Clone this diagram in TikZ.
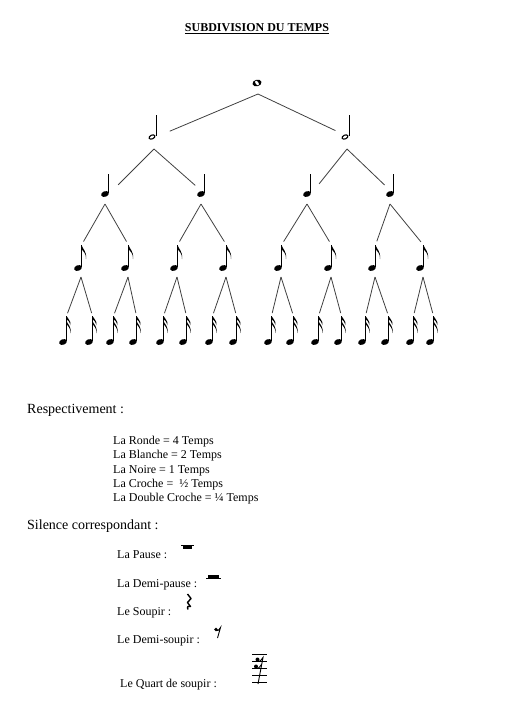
\documentclass[tikz,border=0pt]{standalone}
\usepackage{fontspec}
\setmainfont{Liberation Serif}
\usepackage{tikz}

\tikzset{
  trait/.style={line width=0.8pt, black!75},
  texte/.style={anchor=base west, inner sep=0pt, font=\fontsize{12}{14}\selectfont},
  grand/.style={anchor=base west, inner sep=0pt, font=\fontsize{14}{16}\selectfont},
  ronde/.pic={
    \fill[rotate=15] (0,0) ellipse [x radius=4.6pt, y radius=3.3pt];
    \fill[white, rotate=-55] (0,0) ellipse [x radius=2.6pt, y radius=1.4pt];
    \coordinate (-c) at (1,0);
    \coordinate (-bas) at (1,11);
  },
  blanche/.pic={
    \draw[line width=1.1pt, fill=white, rotate=25] (0,0) ellipse [x radius=3.1pt, y radius=1.9pt];
    \draw[line width=0.8pt] (4,-1) -- (4,-22);
    \coordinate (-c) at (4,0);
    \coordinate (-bas) at (2,12);
  },
  noire/.pic={
    \fill[rotate=20] (0,0) ellipse [x radius=4pt, y radius=2.8pt];
    \draw[line width=0.8pt] (3.5,-1) -- (3.5,-20);
    \coordinate (-c) at (4,0);
    \coordinate (-bas) at (0,10);
  },
  croche/.pic={
    \fill[rotate=20] (0,0) ellipse [x radius=4pt, y radius=2.8pt];
    \draw[line width=0.8pt] (3.5,-1) -- (3.5,-23);
    \fill (3.5,-23) .. controls (4.5,-19) and (9,-17) .. (8,-9) .. controls (8.3,-15) and (5,-16.5) .. (3.5,-19) -- cycle;
    \coordinate (-haut) at (3.5,-23);
    \coordinate (-bas) at (3,9);
  },
  dcroche/.pic={
    \fill[rotate=20] (0,0) ellipse [x radius=4pt, y radius=2.8pt];
    \draw[line width=0.8pt] (3.5,-1) -- (3.5,-26);
    \fill (3.5,-26) .. controls (4.5,-23) and (8,-22) .. (7.5,-17) .. controls (7.3,-20) and (5,-21) .. (3.5,-23) -- cycle;
    \fill (3.5,-21) .. controls (4.5,-18) and (8.5,-16) .. (7.5,-9) .. controls (7.5,-14) and (5,-16) .. (3.5,-18) -- cycle;
    \coordinate (-haut) at (3.5,-26);
  }
}

\begin{document}
\begin{tikzpicture}[x=1pt,y=-1pt]
\useasboundingbox (0,0) rectangle (521,721);

% titre
\node[anchor=base, inner sep=0pt, font=\bfseries\fontsize{12}{14}\selectfont] (titre) at (257,31) {SUBDIVISION DU TEMPS};
\draw[line width=0.6pt] ([yshift=-2.5pt]titre.base west) -- ([yshift=-2.5pt]titre.base east);

% notes
\pic (r) at (257,83) {ronde};
\pic (b1) at (152,137) {blanche};
\pic (b2) at (345,137) {blanche};
\pic (n1) at (105,194) {noire};
\pic (n2) at (201,194) {noire};
\pic (n3) at (307,194) {noire};
\pic (n4) at (390,194) {noire};
\pic (c1) at (78,268) {croche};
\pic (c2) at (125,268) {croche};
\pic (c3) at (174,268) {croche};
\pic (c4) at (223,268) {croche};
\pic (c5) at (278,268) {croche};
\pic (c6) at (328,268) {croche};
\pic (c7) at (372,268) {croche};
\pic (c8) at (420,268) {croche};
\pic (d1) at (63,342) {dcroche};
\pic (d2) at (89,342) {dcroche};
\pic (d3) at (110,342) {dcroche};
\pic (d4) at (133,342) {dcroche};
\pic (d5) at (160,342) {dcroche};
\pic (d6) at (183,342) {dcroche};
\pic (d7) at (209,342) {dcroche};
\pic (d8) at (233,342) {dcroche};
\pic (d9) at (268,342) {dcroche};
\pic (d10) at (290,342) {dcroche};
\pic (d11) at (315,342) {dcroche};
\pic (d12) at (338,342) {dcroche};
\pic (d13) at (362,342) {dcroche};
\pic (d14) at (385,342) {dcroche};
\pic (d15) at (410,342) {dcroche};
\pic (d16) at (430,342) {dcroche};

% branches
\draw[trait, shorten >=15pt] (r-bas) -- (b1-c);
\draw[trait, shorten >=15pt] (r-bas) -- (b2-c);
\draw[trait, shorten >=13pt] (b1-bas) -- (n1-c);
\draw[trait, shorten >=13pt] (b1-bas) -- (n2-c);
\draw[trait, shorten >=13pt] (b2-bas) -- (n3-c);
\draw[trait, shorten >=13pt] (b2-bas) -- (n4-c);
\draw[trait, shorten >=4pt] (n1-bas) -- (c1-haut);
\draw[trait, shorten >=4pt] (n1-bas) -- (c2-haut);
\draw[trait, shorten >=4pt] (n2-bas) -- (c3-haut);
\draw[trait, shorten >=4pt] (n2-bas) -- (c4-haut);
\draw[trait, shorten >=4pt] (n3-bas) -- (c5-haut);
\draw[trait, shorten >=4pt] (n3-bas) -- (c6-haut);
\draw[trait, shorten >=4pt] (n4-bas) -- (c7-haut);
\draw[trait, shorten >=4pt] (n4-bas) -- (c8-haut);
\draw[trait, shorten >=3pt] (c1-bas) -- (d1-haut);
\draw[trait, shorten >=3pt] (c1-bas) -- (d2-haut);
\draw[trait, shorten >=3pt] (c2-bas) -- (d3-haut);
\draw[trait, shorten >=3pt] (c2-bas) -- (d4-haut);
\draw[trait, shorten >=3pt] (c3-bas) -- (d5-haut);
\draw[trait, shorten >=3pt] (c3-bas) -- (d6-haut);
\draw[trait, shorten >=3pt] (c4-bas) -- (d7-haut);
\draw[trait, shorten >=3pt] (c4-bas) -- (d8-haut);
\draw[trait, shorten >=3pt] (c5-bas) -- (d9-haut);
\draw[trait, shorten >=3pt] (c5-bas) -- (d10-haut);
\draw[trait, shorten >=3pt] (c6-bas) -- (d11-haut);
\draw[trait, shorten >=3pt] (c6-bas) -- (d12-haut);
\draw[trait, shorten >=3pt] (c7-bas) -- (d13-haut);
\draw[trait, shorten >=3pt] (c7-bas) -- (d14-haut);
\draw[trait, shorten >=3pt] (c8-bas) -- (d15-haut);
\draw[trait, shorten >=3pt] (c8-bas) -- (d16-haut);

% durees
\node[grand] (resp) at (27,413) {Respectivement :};
\node[texte] (laronde) at (113,444) {La Ronde = 4 Temps};
\node[texte] (lablanche) at (113,458) {La Blanche = 2 Temps};
\node[texte] (lanoire) at (113,473) {La Noire = 1 Temps};
\node[texte] (lacroche) at (113,487) {La Croche = \ ½ Temps};
\node[texte] (ladouble) at (113,501) {La Double Croche = ¼ Temps};

% silences
\node[grand] (silence) at (27,529) {Silence correspondant :};
\node[texte] (pause) at (117,558) {La Pause :};
\node[texte] (demipause) at (117,587) {La Demi-pause :};
\node[texte] (soupir) at (117,615) {Le Soupir :};
\node[texte] (demisoupir) at (117,643) {Le Demi-soupir :};
\node[texte] (quart) at (120,687) {Le Quart de soupir :};

% pause
\draw[line width=0.6pt] (181,545) -- (194,545);
\fill (183,545) rectangle (192,548.5);
% demi-pause
\draw[line width=0.6pt] (206,578) -- (221,578);
\fill (208,574.5) rectangle (219,578);
% soupir
\draw[line width=1.4pt, line join=round] (187.5,594) -- (191,598.5) -- (187.5,602.5) -- (190.5,606.5) .. controls (188.5,605.5) and (186.5,606.5) .. (188,609.5);
% demi-soupir
\fill (216,629.5) circle (1.8pt);
\draw[line width=0.9pt] (216,630.5) .. controls (218,631) .. (220.5,627.5) -- (217.5,638);
% quart de soupir
\foreach \ligne in {654,661,668,675,682}
  \draw[line width=0.6pt] (252,\ligne) -- (267,\ligne);
\fill (257.5,659.5) circle (2pt);
\fill (256,666.5) circle (2pt);
\draw[line width=0.9pt] (257.5,661) .. controls (260,661.5) .. (263,657.5) -- (258,684);
\draw[line width=0.9pt] (256,668) .. controls (258.5,668.5) .. (261.5,664.5);
\end{tikzpicture}
\end{document}
